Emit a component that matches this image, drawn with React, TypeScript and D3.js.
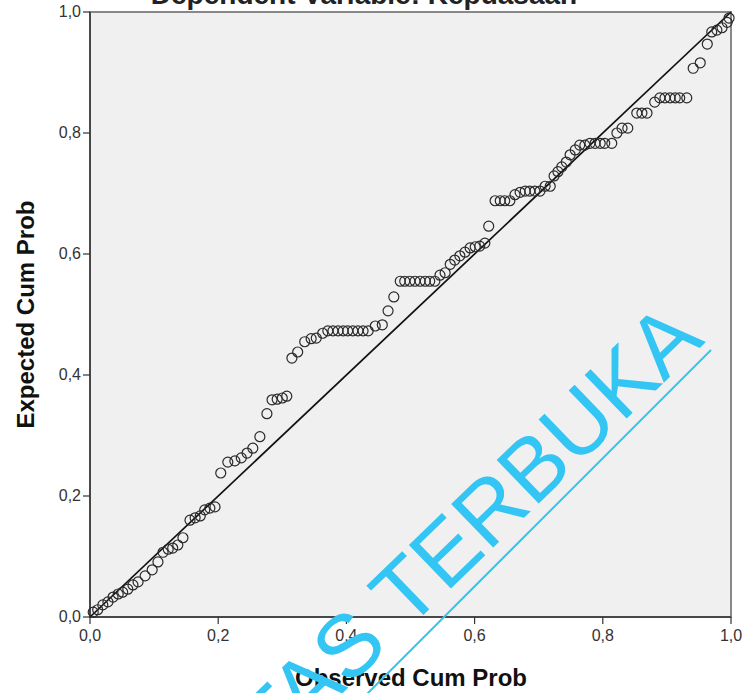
import React from 'react';
import * as d3 from 'd3';

const observed = [
  0.005, 0.012, 0.020, 0.028, 0.036, 0.044, 0.051, 0.059, 0.067, 0.075,
  0.086, 0.097, 0.106, 0.114, 0.122, 0.129, 0.137, 0.145, 0.156, 0.164,
  0.172, 0.179, 0.187, 0.195, 0.204, 0.215, 0.226, 0.236, 0.245, 0.254,
  0.265, 0.276, 0.284, 0.292, 0.300, 0.307, 0.315, 0.324, 0.335, 0.345,
  0.353, 0.363, 0.371, 0.379, 0.387, 0.395, 0.402, 0.410, 0.418, 0.426,
  0.434, 0.445, 0.456, 0.465, 0.474, 0.484, 0.491, 0.499, 0.507, 0.515,
  0.523, 0.530, 0.538, 0.546, 0.554, 0.562, 0.569, 0.577, 0.585, 0.593,
  0.601, 0.608, 0.616, 0.622, 0.632, 0.640, 0.647, 0.655, 0.663, 0.671,
  0.679, 0.686, 0.694, 0.702, 0.710, 0.718, 0.724, 0.730, 0.736, 0.743,
  0.749, 0.757, 0.764, 0.772, 0.780, 0.788, 0.796, 0.803, 0.814, 0.822,
  0.830, 0.839, 0.853, 0.861, 0.869, 0.881, 0.889, 0.897, 0.905, 0.913,
  0.920, 0.931, 0.941, 0.952, 0.963, 0.970, 0.978, 0.986, 0.994, 0.997,
];
const expected = [
  0.008, 0.012, 0.020, 0.025, 0.033, 0.038, 0.041, 0.046, 0.053, 0.058,
  0.068, 0.078, 0.091, 0.107, 0.112, 0.114, 0.119, 0.131, 0.160, 0.164,
  0.167, 0.177, 0.180, 0.182, 0.238, 0.256, 0.258, 0.263, 0.271, 0.279,
  0.298, 0.336, 0.359, 0.360, 0.362, 0.365, 0.428, 0.438, 0.455, 0.460,
  0.461, 0.469, 0.473, 0.473, 0.473, 0.473, 0.473, 0.473, 0.473, 0.473,
  0.473, 0.481, 0.483, 0.506, 0.529, 0.555, 0.555, 0.555, 0.555, 0.555,
  0.555, 0.555, 0.555, 0.565, 0.569, 0.583, 0.590, 0.597, 0.603, 0.610,
  0.612, 0.613, 0.618, 0.646, 0.688, 0.688, 0.688, 0.688, 0.698, 0.702,
  0.704, 0.704, 0.704, 0.704, 0.712, 0.712, 0.729, 0.736, 0.744, 0.752,
  0.764, 0.772, 0.780, 0.780, 0.783, 0.783, 0.783, 0.783, 0.783, 0.800,
  0.808, 0.808, 0.833, 0.833, 0.833, 0.851, 0.858, 0.858, 0.858, 0.858,
  0.858, 0.858, 0.907, 0.916, 0.947, 0.967, 0.970, 0.974, 0.983, 0.990,
];
const ticks = [0, 0.2, 0.4, 0.6, 0.8, 1.0];
const tickLabels = ['0,0', '0,2', '0,4', '0,6', '0,8', '1,0'];

const W = 745;
const H = 693;
const margin = { left: 90, right: 14, top: 12, bottom: 76 };

export default function App() {
  const x = d3.scaleLinear().domain([0, 1]).range([margin.left, W - margin.right]);
  const y = d3.scaleLinear().domain([0, 1]).range([H - margin.bottom, margin.top]);
  const pts = observed.map((o, i) => [o, expected[i]]);
  const font = 'Arial, "Liberation Sans", sans-serif';

  return (
    <svg width={W} height={H} style={{ position: 'absolute', left: 0, top: 0 }} fontFamily={font}>
      <rect width={W} height={H} fill="#ffffff" />
      <text x={364} y={4} textAnchor="middle" fontWeight="bold" fontSize={28} fill="#222">
        Dependent Variable: Kepuasaan
      </text>
      <rect
        x={x(0)} y={y(1)} width={x(1) - x(0)} height={y(0) - y(1)}
        fill="#f0f0f0" stroke="#888" strokeWidth={2}
      />
      <line x1={x(0)} y1={y(0)} x2={x(0)} y2={y(1)} stroke="#333" strokeWidth={1.5} />
      <line x1={x(0)} y1={y(0)} x2={x(1)} y2={y(0)} stroke="#333" strokeWidth={1.5} />
      {ticks.map((t, i) => (
        <g key={'y' + i}>
          <line x1={x(0) - 7} x2={x(0)} y1={y(t)} y2={y(t)} stroke="#333" strokeWidth={1.2} />
          <text x={x(0) - 9} y={y(t) + 5} textAnchor="end" fontSize={16} fill="#333">{tickLabels[i]}</text>
        </g>
      ))}
      {ticks.map((t, i) => (
        <g key={'x' + i}>
          <line x1={x(t)} x2={x(t)} y1={y(0)} y2={y(0) + 7} stroke="#333" strokeWidth={1.2} />
          <text x={x(t)} y={y(0) + 24} textAnchor="middle" fontSize={16} fill="#333">{tickLabels[i]}</text>
        </g>
      ))}
      <line x1={x(0)} y1={y(0)} x2={x(1)} y2={y(1)} stroke="#111" strokeWidth={1.7} />
      {pts.map((p, i) => (
        <circle key={i} cx={x(p[0])} cy={y(p[1])} r={5} fill="none" stroke="#2a2a2a" strokeWidth={1.2} />
      ))}
      <text x={411} y={686} textAnchor="middle" fontWeight="bold" fontSize={24} fill="#111">
        Observed Cum Prob
      </text>
      <text
        transform={`translate(34,${(y(0) + y(1)) / 2}) rotate(-90)`}
        textAnchor="middle" fontWeight="bold" fontSize={24} fill="#111"
      >
        Expected Cum Prob
      </text>
      {/* watermark */}
      <g transform="translate(706,342) rotate(-44)">
        <text x={0} y={0} textAnchor="end" fontSize={88} fill="#33c5f3">UNIVERSITAS TERBUKA</text>
      </g>
      <line x1={711} y1={350} x2={340} y2={721} stroke="#33c5f3" strokeWidth={2} />
    </svg>
  );
}
